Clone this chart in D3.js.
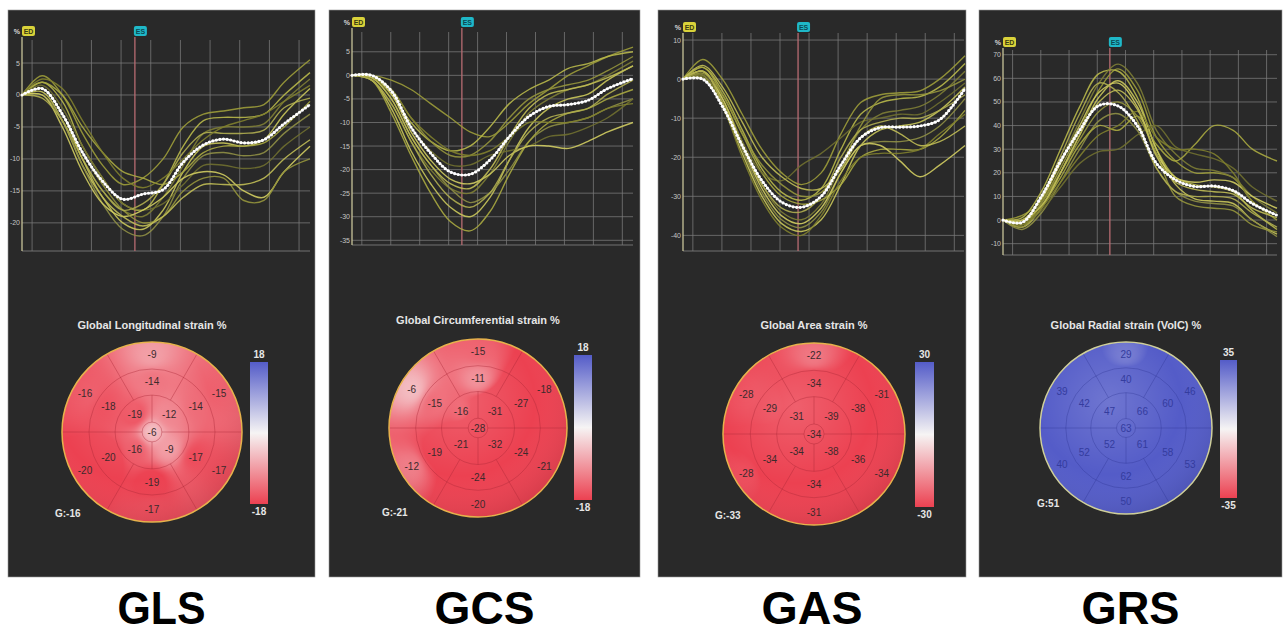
<!doctype html>
<html lang="en">
<head>
<meta charset="utf-8">
<title>Global strain - GLS GCS GAS GRS</title>
<script src="https://cdn.jsdelivr.net/npm/d3@7"></script>
<style>
  body { margin: 0; background: #fff; }
  svg { display: block; font-family: "Liberation Sans", Arial, sans-serif; }
</style>
</head>
<body>
<div id="viz"></div>
<script>
// DATA
// frames, % of the cardiac cycle from ED
var frames = [0, 7, 14, 21, 28, 35, 42, 49, 56, 63, 70, 77, 84, 91, 100];
var gridFrames = [3.5, 13.8, 24.1, 34.4, 44.7, 55, 65.3, 75.6, 85.9, 96.2];
var names = ["GLS", "GCS", "GAS", "GRS"];
var titles = ["Global Longitudinal strain %", "Global Circumferential strain %", "Global Area strain %", "Global Radial strain (VolC) %"];
var esFrame = [39.2, 39.1, 40.8, 39];
var globalValues = [-16, -21, -33, 51];
var barMax = [18, 18, 30, 35];

var glsTicks = [5, 0, -5, -10, -15, -20];
var gcsTicks = [5, 0, -5, -10, -15, -20, -25, -30, -35];
var gasTicks = [10, 0, -10, -20, -30, -40];
var grsTicks = [70, 60, 50, 40, 30, 20, 10, 0, -10];

var glsMean = [0, 1, -3, -9, -13.5, -16.3, -15.5, -14.8, -10.5, -7.8, -6.9, -7.5, -7, -4.5, -1.5];
var gcsMean = [0, 0, -3.3, -11, -16.5, -20.5, -21, -18, -13, -8.7, -6.6, -6.2, -5.3, -2.8, -0.7];
var gasMean = [0, 0, -7, -17, -26, -31.5, -32.8, -30, -22, -15, -12.4, -12.3, -12, -10.4, -2.4];
var grsMean = [0, -1, 10, 25, 38, 48.5, 48.3, 40, 24, 17, 14.2, 14.4, 12.5, 7, 2];

var glsSegments = [
  [0, 3, 0, -6, -11, -14, -13, -10, -5, -3, -2.5, -2, -1.5, 2, 5.5],
  [0, 2, -1, -8, -13, -17, -18, -14, -8, -4, -3.5, -3.5, -3, 0, 3.5],
  [0, 1, -3, -10, -15, -18, -19, -16, -11, -6, -5, -5, -4.5, -1, 2.5],
  [0, 0.5, -4, -11, -16, -20, -21, -18, -12, -8, -7.5, -8, -7, -3, 1],
  [0, 0, -4, -11, -17, -21, -22, -19, -13, -9.5, -9, -9.5, -9, -6, -3],
  [0, 2, 0, -5, -9, -12, -13, -14, -12, -9, -8, -8, -7.5, -5, -1],
  [0, 1.5, -2, -8, -13, -17, -18, -17, -14, -11, -11, -11.5, -11, -8, -5],
  [0, 0, -5, -12, -17, -19, -18, -16, -13, -12, -12.5, -15, -16, -12, -8],
  [0, 1, -3, -9, -14, -18, -20, -19, -15, -13, -13, -16.5, -16.5, -12, -10],
  [0, -0.5, -4, -10, -15, -18, -17, -14, -9, -6, -6, -6, -5.5, -2, -0.5],
  [0, 2.5, 1, -4, -9, -13, -14.5, -13, -10, -7, -5, -4, -3, -1, 1.5],
  [0, 1, -3, -10, -16, -19, -20.5, -19, -16, -14, -14, -14, -13, -10, -7]
];
var gcsSegments = [
  [0, 0, -1, -3, -6, -9, -12, -13, -10, -6, -3, 0, 2, 4, 6],
  [0, -0.5, -4, -10, -14, -16, -15, -11, -6, -3, -1, 1.5, 2.5, 4, 5],
  [0, -1, -6, -14, -20, -24, -25, -21, -14, -8, -5, -3, -2, 0, 3],
  [0, -1, -7, -16, -23, -28, -30, -26, -18, -11, -7, -5, -4, -1, 2],
  [0, -0.5, -5, -13, -19, -24, -27, -25, -20, -14, -11, -10, -9, -7, -5],
  [0, -1, -8, -17, -25, -31, -33, -29, -21, -14, -10, -8, -7, -5, -3],
  [0, -0.5, -4, -11, -16, -19, -19, -17, -16, -15, -13, -12.5, -11, -9, -5],
  [0, 0, -4, -12, -18, -22, -23, -21, -17, -15, -15, -15.5, -14, -12, -10],
  [0, -0.5, -3, -9, -14, -17, -17, -14, -9, -5, -3, -2, -1, 1, 4],
  [0, -1, -6, -14, -21, -26, -28, -25, -18, -12, -9, -8, -7, -4, -1],
  [0, 0, -3, -9, -13, -16, -17, -16, -13, -10, -10, -10, -9, -7, -6],
  [0, -0.5, -5, -13, -19, -23, -24, -20, -13, -7, -4, -3, -2, -0.5, 2]
];
var gasSegments = [
  [0, 5, 0, -9, -18, -24, -27, -24, -14, -6, -4, -3.5, -3, 0, 6],
  [0, 3, -3, -13, -23, -29, -31, -28, -18, -9, -6, -5, -4.5, -2, 4],
  [0, 2, -5, -16, -27, -34, -36, -32, -22, -13, -9, -8, -7, -4, 2],
  [0, 1, -7, -19, -30, -37, -39, -36, -27, -17, -13, -12, -11, -8, -2],
  [0, 2, -6, -18, -29, -36, -38, -34, -24, -17, -16, -16, -15, -12, -5],
  [0, 3, -4, -14, -24, -30, -32, -31, -27, -20, -18, -18, -18, -15, -8],
  [0, 1, -6, -16, -24, -26, -22, -19, -15, -11, -10, -9, -9, -6, -1],
  [0, 2, -5, -17, -28, -35, -37, -33, -24, -17, -17, -21, -25, -22, -17],
  [0, 1.5, -4, -14, -22, -27, -30, -29, -22, -12, -5, -4, -4, -3, 0],
  [0, 2, -6, -17, -27, -33, -34, -30, -20, -13, -11, -10, -10, -8, -4],
  [0, 0.5, -7, -20, -31, -38, -40, -35, -26, -20, -19, -19, -18, -14, -9],
  [0, 3.5, -2, -11, -20, -25, -28, -28, -23, -15, -12, -14, -17, -16, -12]
];
var grsSegments = [
  [0, 2, 8, 22, 38, 55, 64, 55, 35, 25, 20, 20, 18, 8, 0],
  [0, 1, 12, 30, 48, 62, 63, 52, 30, 18, 15, 14, 12, 4, -4],
  [0, -2, 8, 25, 42, 58, 66, 58, 38, 28, 22, 21, 18, 10, 3],
  [0, -3, 5, 20, 36, 52, 59, 50, 30, 15, 9, 8, 7, 0, -6],
  [0, -4, 3, 16, 30, 42, 45, 38, 22, 12, 8, 7, 6, 0, -7],
  [0, -1, 6, 18, 32, 40, 38, 44, 32, 25, 32, 40, 38, 30, 25],
  [0, -2, 4, 14, 24, 29, 30, 36, 40, 31, 28, 26, 22, 14, 8],
  [0, 0, 9, 24, 40, 54, 58, 48, 28, 18, 16, 17, 16, 10, 5],
  [0, -3, 7, 20, 34, 46, 50, 44, 28, 10, 6, 5, 4, -2, -5],
  [0, -1, 10, 27, 45, 58, 54, 42, 22, 12, 10, 10, 9, 3, -3],
  [0, -2, 5, 16, 27, 36, 40, 46, 35, 30, 30, 28, 20, 8, 2],
  [0, 0, 6, 20, 36, 50, 55, 47, 27, 16, 13, 12, 11, 5, 1]
];

// bullseye segment values: basal / mid [ant, antlat, inflat, inf, infsep, antsep], apical [UR, LR, LL, UL], apex
var glsBasal = [-9, -15, -17, -17, -20, -16];
var glsMid = [-14, -14, -17, -19, -20, -18];
var glsApical = [-12, -9, -16, -19];
var glsApex = -6;
var gcsBasal = [-15, -18, -21, -20, -12, -6];
var gcsMid = [-11, -27, -24, -24, -19, -15];
var gcsApical = [-31, -32, -21, -16];
var gcsApex = -28;
var gasBasal = [-22, -31, -34, -31, -28, -28];
var gasMid = [-34, -38, -36, -34, -34, -29];
var gasApical = [-39, -38, -34, -31];
var gasApex = -34;
var grsBasal = [29, 46, 53, 50, 40, 39];
var grsMid = [40, 60, 58, 62, 52, 42];
var grsApical = [66, 61, 52, 47];
var grsApex = 63;

var ticksList = [glsTicks, gcsTicks, gasTicks, grsTicks];
var meanList = [glsMean, gcsMean, gasMean, grsMean];
var segList = [glsSegments, gcsSegments, gasSegments, grsSegments];
var beList = [
  [glsBasal, glsMid, glsApical, glsApex],
  [gcsBasal, gcsMid, gcsApical, gcsApex],
  [gasBasal, gasMid, gasApical, gasApex],
  [grsBasal, grsMid, grsApical, grsApex]
];

// LAYOUT (pixels)
var W = 1286, H = 635;
var layout = [
  {px0: 8,   px1: 315,  ax: 22,   ex: 310,  yTop: 40, yBot: 251, dom: [-24.4, 8.6], lblY: 31, cx: 152,  cy: 432, R: 90, titleY: 329, bar: [250, 362, 18, 142], gx: 55,  gy: 517, capW: 88},
  {px0: 329, px1: 640,  ax: 352,  ex: 633,  yTop: 32, yBot: 245, dom: [-36, 9.2],   lblY: 22, cx: 478,  cy: 428, R: 89, titleY: 324, bar: [574, 355, 18, 145], gx: 382, gy: 516, capW: 100},
  {px0: 658, px1: 966,  ax: 683,  ex: 965,  yTop: 33, yBot: 251, dom: [-44, 11.8],  lblY: 27, cx: 814,  cy: 434, R: 91, titleY: 329, bar: [915, 362, 19, 145], gx: 715, gy: 519, capW: 101},
  {px0: 979, px1: 1282, ax: 1003, ex: 1277, yTop: 50, yBot: 255, dom: [-14.8, 72], lblY: 42, cx: 1126, cy: 428, R: 86, titleY: 329, bar: [1220, 360, 17, 138], gx: 1037, gy: 507, capW: 98}
];
var segColors = ["#9c9c3a", "#b8b84a", "#7d7d35", "#c9c65a", "#8f8f45", "#a8a840",
                 "#6f6f30", "#d0cc60", "#95953c", "#b0ae50", "#80802e", "#c0bc55"];

var svg = d3.select("#viz").append("svg")
  .attr("width", W).attr("height", H);
var defs = svg.append("defs");

var shine = defs.append("radialGradient").attr("id", "shine")
  .attr("cx", "40%").attr("cy", "35%").attr("r", "70%");
shine.append("stop").attr("offset", "0%").attr("stop-color", "#fff").attr("stop-opacity", 0.16);
shine.append("stop").attr("offset", "60%").attr("stop-color", "#fff").attr("stop-opacity", 0);
shine.append("stop").attr("offset", "100%").attr("stop-color", "#000").attr("stop-opacity", 0.1);

function unitPoints(be) {
  var pts = [];
  var ringAngles = [90, 30, -30, -90, -150, 150];
  var apAngles = [45, -45, -135, 135];
  function add(r, a, v) {
    var rad = a * Math.PI / 180;
    pts.push({x: r * Math.cos(rad), y: -r * Math.sin(rad), v: v});
  }
  be[0].forEach(function(v, i) { add(0.86, ringAngles[i], v); });
  be[1].forEach(function(v, i) { add(0.56, ringAngles[i], v); });
  be[2].forEach(function(v, i) { add(0.27, apAngles[i], v); });
  add(0, 0, be[3]);
  return pts;
}

function bullseyeImage(pts, R, color) {
  var size = Math.ceil(2 * R);
  var cv = document.createElement("canvas");
  cv.width = size; cv.height = size;
  var ctx = cv.getContext("2d");
  var img = ctx.createImageData(size, size);
  for (var j = 0; j < size; j++) {
    for (var i = 0; i < size; i++) {
      var x = (i + 0.5 - R) / R, y = (j + 0.5 - R) / R;
      if (x * x + y * y > 1.03) continue;
      var ws = 0, vs = 0;
      for (var k = 0; k < pts.length; k++) {
        var dx = x - pts[k].x, dy = y - pts[k].y;
        var w = 1 / Math.pow(dx * dx + dy * dy + 0.002, 1.6);
        ws += w; vs += w * pts[k].v;
      }
      var c = d3.rgb(color(vs / ws));
      var o = (j * size + i) * 4;
      img.data[o] = c.r; img.data[o + 1] = c.g; img.data[o + 2] = c.b; img.data[o + 3] = 255;
    }
  }
  ctx.putImageData(img, 0, 0);
  return cv.toDataURL();
}

layout.forEach(function(L, p) {
  var g = svg.append("g").attr("class", "panel-" + names[p]);

  // panel background
  g.append("rect")
    .attr("x", L.px0).attr("y", 10)
    .attr("width", L.px1 - L.px0).attr("height", 567)
    .attr("fill", "#292929")
    .attr("stroke", "#9a9a9a").attr("stroke-width", 0.6);

  // TRACE PLOT
  var x = d3.scaleLinear().domain([0, 100]).range([L.ax, L.ex]);
  var y = d3.scaleLinear().domain(L.dom).range([L.yBot, L.yTop]);
  var gridRight = Math.min(L.ex, L.px1 - 2);

  g.selectAll(".hgrid").data(ticksList[p]).enter().append("line")
    .attr("x1", L.ax).attr("x2", gridRight)
    .attr("y1", function(d) { return y(d); }).attr("y2", function(d) { return y(d); })
    .attr("stroke", "#7c7c7c").attr("stroke-width", 0.9).attr("opacity", 0.85);
  g.append("line")
    .attr("x1", L.ax).attr("x2", gridRight)
    .attr("y1", L.yBot).attr("y2", L.yBot)
    .attr("stroke", "#7c7c7c").attr("stroke-width", 0.9);
  g.selectAll(".vgrid").data(gridFrames).enter().append("line")
    .attr("x1", function(d) { return x(d); }).attr("x2", function(d) { return x(d); })
    .attr("y1", L.yTop).attr("y2", L.yBot)
    .attr("stroke", "#7c7c7c").attr("stroke-width", 0.9).attr("opacity", 0.85);

  g.selectAll(".ytick").data(ticksList[p]).enter().append("text")
    .attr("x", L.ax - 2).attr("y", function(d) { return y(d) + 2.5; })
    .attr("text-anchor", "end")
    .attr("font-size", 7).attr("fill", "#c4c4c4")
    .text(function(d) { return d; });

  // ED axis + ES marker
  g.append("line")
    .attr("x1", L.ax).attr("x2", L.ax).attr("y1", L.lblY + 6).attr("y2", L.yBot)
    .attr("stroke", "#c8c49a").attr("stroke-width", 1.3);
  g.append("line")
    .attr("x1", x(esFrame[p])).attr("x2", x(esFrame[p]))
    .attr("y1", L.lblY + 6).attr("y2", L.yBot)
    .attr("stroke", "#b86c72").attr("stroke-width", 1.3);

  g.append("text").attr("x", L.ax - 2).attr("y", L.lblY + 3)
    .attr("text-anchor", "end").attr("font-size", 7).attr("font-weight", "bold")
    .attr("fill", "#d8d8d8").text("%");
  g.append("rect").attr("x", L.ax).attr("y", L.lblY - 5).attr("width", 13).attr("height", 10)
    .attr("rx", 2).attr("fill", "#d9d23a");
  g.append("text").attr("x", L.ax + 6.5).attr("y", L.lblY + 3)
    .attr("text-anchor", "middle").attr("font-size", 7).attr("font-weight", "bold")
    .attr("fill", "#3b3a10").text("ED");
  g.append("rect").attr("x", x(esFrame[p]) - 1).attr("y", L.lblY - 5).attr("width", 13).attr("height", 10)
    .attr("rx", 2).attr("fill", "#1fb8c8");
  g.append("text").attr("x", x(esFrame[p]) + 5.5).attr("y", L.lblY + 3)
    .attr("text-anchor", "middle").attr("font-size", 7).attr("font-weight", "bold")
    .attr("fill", "#0b4a55").text("ES");

  var line = d3.line()
    .x(function(d, i) { return x(frames[i]); })
    .y(function(d) { return y(d); })
    .curve(d3.curveCatmullRom.alpha(0.5));

  g.selectAll(".seg").data(segList[p]).enter().append("path")
    .attr("d", line)
    .attr("fill", "none")
    .attr("stroke", function(d, i) { return segColors[i % segColors.length]; })
    .attr("stroke-width", 1.4)
    .attr("opacity", 0.9);

  var meanPath = g.append("path")
    .attr("d", line(meanList[p]))
    .attr("fill", "none")
    .attr("stroke", "#e8e8e8").attr("stroke-width", 1.6);
  var node = meanPath.node(), len = node.getTotalLength();
  var dots = d3.range(0, len, 3.6).map(function(l) { return node.getPointAtLength(l); });
  g.selectAll(".dot").data(dots).enter().append("circle")
    .attr("cx", function(d) { return d.x; }).attr("cy", function(d) { return d.y; })
    .attr("r", 1.6).attr("fill", "#ffffff");

  // BULLSEYE
  var m = barMax[p];
  var color = d3.scaleLinear().domain([-m, 0, m])
    .range(["#ec4151", "#f6f4f4", "#545cc8"]).clamp(true);

  g.append("text").attr("x", L.cx).attr("y", L.titleY)
    .attr("text-anchor", "middle").attr("font-size", 11).attr("font-weight", "bold")
    .attr("fill", "#e6e6e6").text(titles[p]);

  var clipId = "clip" + p;
  defs.append("clipPath").attr("id", clipId).append("circle")
    .attr("cx", L.cx).attr("cy", L.cy).attr("r", L.R);
  var be = beList[p];
  var pts = unitPoints(be);
  g.append("image")
    .attr("href", bullseyeImage(pts, L.R, color))
    .attr("x", L.cx - L.R).attr("y", L.cy - L.R)
    .attr("width", Math.ceil(2 * L.R)).attr("height", Math.ceil(2 * L.R))
    .attr("clip-path", "url(#" + clipId + ")");
  g.append("circle").attr("cx", L.cx).attr("cy", L.cy).attr("r", L.R)
    .attr("fill", "url(#shine)");

  var isBlue = be[3] > 0;
  var segStroke = isBlue ? "rgba(40,45,140,0.35)" : "rgba(170,40,55,0.45)";
  [0.7, 0.41, 0.11].forEach(function(k) {
    g.append("circle").attr("cx", L.cx).attr("cy", L.cy).attr("r", L.R * k)
      .attr("fill", "none").attr("stroke", segStroke).attr("stroke-width", 0.9);
  });
  [0, 60, 120, 180, 240, 300].forEach(function(a) {
    var r = a * Math.PI / 180;
    var r0 = (a % 180 === 0) ? 0.11 : 0.41;
    g.append("line")
      .attr("x1", L.cx + Math.cos(r) * L.R * r0).attr("y1", L.cy - Math.sin(r) * L.R * r0)
      .attr("x2", L.cx + Math.cos(r) * L.R).attr("y2", L.cy - Math.sin(r) * L.R)
      .attr("stroke", segStroke).attr("stroke-width", 0.9);
  });
  [90, 270].forEach(function(a) {
    var r = a * Math.PI / 180;
    g.append("line")
      .attr("x1", L.cx + Math.cos(r) * L.R * 0.11).attr("y1", L.cy - Math.sin(r) * L.R * 0.11)
      .attr("x2", L.cx + Math.cos(r) * L.R * 0.41).attr("y2", L.cy - Math.sin(r) * L.R * 0.41)
      .attr("stroke", segStroke).attr("stroke-width", 0.9);
  });
  g.append("circle").attr("cx", L.cx).attr("cy", L.cy).attr("r", L.R)
    .attr("fill", "none").attr("stroke", isBlue ? "#cfcf9a" : "#e6b24c").attr("stroke-width", 1.5);

  g.selectAll(".segval").data(pts).enter().append("text")
    .attr("x", function(d) { return L.cx + d.x * L.R; })
    .attr("y", function(d) { return L.cy + d.y * L.R + 3.5; })
    .attr("text-anchor", "middle").attr("font-size", 10)
    .attr("fill", isBlue ? "#343c9e" : "#3c2a2c")
    .text(function(d) { return d.v; });

  g.append("text").attr("x", L.gx).attr("y", L.gy)
    .attr("font-size", 10).attr("font-weight", "bold").attr("fill", "#e6e6e6")
    .text("G:" + globalValues[p]);

  // colour bar
  var gradId = "bar" + p;
  var grad = defs.append("linearGradient").attr("id", gradId)
    .attr("x1", 0).attr("y1", 0).attr("x2", 0).attr("y2", 1);
  d3.range(0, 1.0001, 0.1).forEach(function(f) {
    grad.append("stop").attr("offset", f).attr("stop-color", color(m - 2 * m * f));
  });
  g.append("rect").attr("x", L.bar[0]).attr("y", L.bar[1])
    .attr("width", L.bar[2]).attr("height", L.bar[3])
    .attr("fill", "url(#" + gradId + ")");
  g.append("text").attr("x", L.bar[0] + L.bar[2] / 2).attr("y", L.bar[1] - 4)
    .attr("text-anchor", "middle").attr("font-size", 10).attr("font-weight", "bold")
    .attr("fill", "#e6e6e6").text(m);
  g.append("text").attr("x", L.bar[0] + L.bar[2] / 2).attr("y", L.bar[1] + L.bar[3] + 11)
    .attr("text-anchor", "middle").attr("font-size", 10).attr("font-weight", "bold")
    .attr("fill", "#e6e6e6").text(-m);

  // big caption below
  svg.append("text")
    .attr("x", (L.px0 + L.px1) / 2).attr("y", 624)
    .attr("text-anchor", "middle")
    .attr("font-family", "'Liberation Sans', Arial, sans-serif")
    .attr("font-size", 47).attr("font-weight", "bold").attr("fill", "#000")
    .attr("textLength", L.capW).attr("lengthAdjust", "spacingAndGlyphs")
    .text(names[p]);
});
</script>
</body>
</html>
